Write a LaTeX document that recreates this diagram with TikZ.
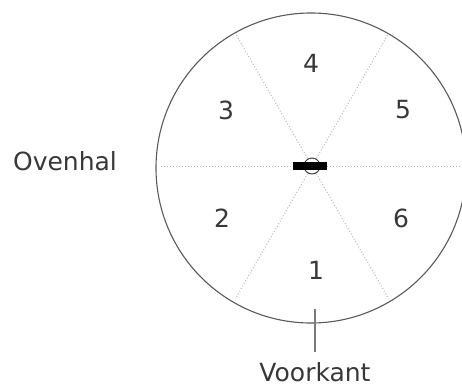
\documentclass[tikz,border=0pt]{standalone}
\usepackage{fontspec}
\setmainfont{DejaVu Sans}
\usetikzlibrary{calc}
\definecolor{rim}{HTML}{5A5A5A}
\definecolor{guide}{HTML}{B8B8B8}
\tikzset{
  lbl/.style={inner sep=0pt, font=\fontsize{25}{28}\selectfont, text=black!78},
  rimline/.style={draw=rim, line width=1.1pt},
  guideline/.style={draw=guide, line width=1pt, dotted},
}
\begin{document}
\begin{tikzpicture}[x=1pt,y=-1pt]
\useasboundingbox (0,0) rectangle (462,388);
\fill[white] (0,0) rectangle (462,388);
\coordinate (c) at (312,166);
\node[rimline, circle, minimum size=310pt, inner sep=0pt] (rim) at (311,168) {};
% dotted sector lines
\foreach \a in {0,60,120,180,240,300}{
  \draw[guideline] (c) -- ($(c)+(\a:153)$);
}
% labels
\node[lbl] (n4) at (311,63) {4};
\node[lbl] (n3) at (226,110) {3};
\node[lbl] (n5) at (403,110) {5};
\node[lbl] (n2) at (222,218) {2};
\node[lbl] (n6) at (401,218) {6};
\node[lbl] (n1) at (316,270) {1};
\node[lbl] (oven) at (65,161) {Ovenhal};
\node[lbl, anchor=north] (voor) at (315,362) {Voorkant};
% front tick
\coordinate (t1) at (315,309);
\coordinate (t2) at (315,352);
\draw[draw=rim!80, line width=1.1pt] (t1) -- (t2);
% center marker
\node[circle, draw=black!80, fill=white, line width=0.9pt, minimum size=16pt, inner sep=0pt] (hub) at (c) {};
\node[fill=black, minimum width=34pt, minimum height=8pt, inner sep=0pt] (bar) at (310,166) {};
\end{tikzpicture}
\end{document}
